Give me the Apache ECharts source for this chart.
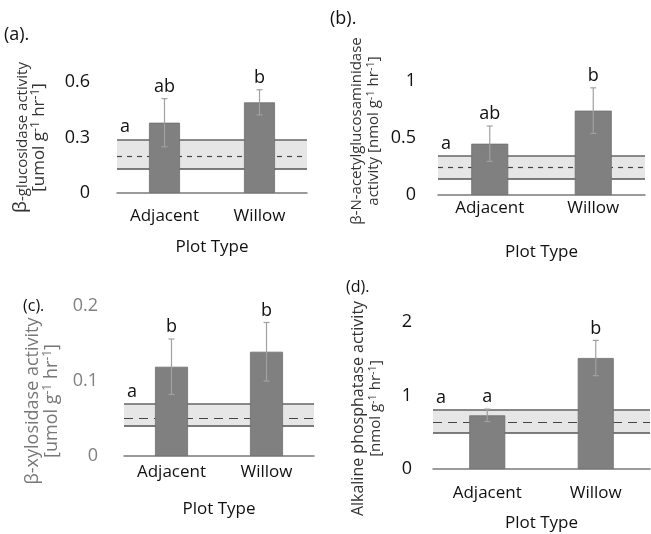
<!DOCTYPE html>
<html>
<head>
<meta charset="utf-8">
<script src="https://cdn.jsdelivr.net/npm/echarts@6/dist/echarts.min.js"></script>
<style>
  html, body { margin: 0; padding: 0; background: #fff; }
  #chart { width: 651px; height: 534px; }
</style>
</head>
<body>
<div id="chart"></div>
<script>
// plot types
var categories = ['Adjacent', 'Willow'];

// (a) beta-glucosidase
var aMean = [0.38, 0.49];
var aErr = [0.13, 0.068];
var aLetters = ['ab', 'b'];
var aBand = [0.13, 0.205, 0.286]; // low, mid, high
var aTicks = [0, 0.3, 0.6];

// (b) beta-N-acetylglucosaminidase
var bMean = [0.45, 0.74];
var bErr = [0.155, 0.2];
var bLetters = ['ab', 'b'];
var bBand = [0.14, 0.24, 0.34];
var bTicks = [0, 0.5, 1];

// (c) beta-xylosidase
var cMean = [0.119, 0.139];
var cErr = [0.037, 0.039];
var cLetters = ['b', 'b'];
var cBand = [0.039, 0.054, 0.070];
var cTicks = [0, 0.1, 0.2];

// (d) alkaline phosphatase
var dMean = [0.73, 1.51];
var dErr = [0.085, 0.24];
var dLetters = ['a', 'b'];
var dBand = [0.49, 0.64, 0.81];
var dTicks = [0, 1, 2];

var bandLetter = 'a';
var FONT = '"Open Sans", "Noto Sans", sans-serif';

// rich styles for the rotated y titles (u = superscript, g = spacer)
var aRich = {
  b: { fontSize: 19, verticalAlign: 'bottom', lineHeight: 18 },
  s: { fontSize: 15, verticalAlign: 'bottom', lineHeight: 18 },
  m: { fontSize: 17, lineHeight: 18 },
  u: { fontSize: 12, verticalAlign: 'top', lineHeight: 18 }
};
var bRich = {
  t: { fontSize: 15, lineHeight: 17 },
  u: { fontSize: 11, verticalAlign: 'top', lineHeight: 17 },
  g: { width: 14, fontSize: 10 }
};
var cRich = {
  m: { fontSize: 18, lineHeight: 19 },
  u: { fontSize: 12, verticalAlign: 'top', lineHeight: 19 },
  g: { width: 40, fontSize: 10 }
};
var dRich = {
  k: { fontSize: 16, lineHeight: 18 },
  m: { fontSize: 15, lineHeight: 18 },
  u: { fontSize: 11, verticalAlign: 'top', lineHeight: 18 },
  g: { width: 26, fontSize: 10 }
};

function errRender(letters) {
  return function (params, api) {
    var i = api.value(0), m = api.value(1), e = api.value(2);
    var top = api.coord([i, m + e]);
    var bot = api.coord([i, m - e]);
    var w = 3;
    var st = { stroke: '#a0a0a0', lineWidth: 1.2 };
    return {
      type: 'group',
      children: [
        { type: 'line', shape: { x1: top[0], y1: top[1], x2: bot[0], y2: bot[1] }, style: st },
        { type: 'line', shape: { x1: top[0] - w, y1: top[1], x2: top[0] + w, y2: top[1] }, style: st },
        { type: 'line', shape: { x1: bot[0] - w, y1: bot[1], x2: bot[0] + w, y2: bot[1] }, style: st },
        {
          type: 'text', x: top[0], y: top[1] - 3,
          style: {
            text: letters[params.dataIndex], textAlign: 'center', textVerticalAlign: 'bottom',
            font: '18px ' + FONT, fill: '#111'
          }
        }
      ]
    };
  };
}

function panelSeries(idx, mean, err, letters, band, dash, barW) {
  var errData = mean.map(function (v, k) { return [k, v, err[k]]; });
  return [
    {
      type: 'bar', xAxisIndex: idx, yAxisIndex: idx, z: 2,
      data: mean, barWidth: barW,
      itemStyle: { color: '#808080', borderColor: '#6e6e6e', borderWidth: 0.8 },
      markArea: {
        silent: true, z: 0.5,
        itemStyle: { color: '#e6e6e6' },
        data: [[{ yAxis: band[0] }, { yAxis: band[2] }]]
      },
      markLine: {
        silent: true, z: 1, symbol: 'none', animation: false,
        data: [
          { yAxis: band[0], lineStyle: { color: '#555', width: 1.5, type: 'solid' }, label: { show: false } },
          { yAxis: band[1], lineStyle: { color: '#444', width: 1.2, type: dash }, label: { show: false } },
          {
            yAxis: band[2], lineStyle: { color: '#666', width: 1.5, type: 'solid' },
            label: {
              show: true, position: 'insideStartTop', formatter: bandLetter, distance: 3,
              color: '#111', fontSize: 18, fontFamily: FONT
            }
          }
        ]
      }
    },
    {
      type: 'custom', xAxisIndex: idx, yAxisIndex: idx, z: 3,
      renderItem: errRender(letters), data: errData, clip: false
    }
  ];
}

function xAxisCfg(idx, margin, gap) {
  return {
    type: 'category', gridIndex: idx, data: categories,
    axisTick: { show: false },
    axisLine: { lineStyle: { color: '#7a7a7a', width: 1.5 } },
    axisLabel: { color: '#111', fontSize: 17, fontFamily: FONT, margin: margin },
    name: 'Plot Type', nameLocation: 'middle', nameGap: gap,
    nameTextStyle: { color: '#111', fontSize: 17, fontFamily: FONT }
  };
}

function yAxisCfg(idx, ticks, name, rich, gap, color, nameColor, labMargin) {
  return {
    type: 'value', gridIndex: idx,
    min: ticks[0], max: ticks[ticks.length - 1], interval: ticks[1] - ticks[0],
    splitLine: { show: false }, axisLine: { show: false }, axisTick: { show: false },
    axisLabel: { color: color, fontSize: 18, fontFamily: FONT, margin: labMargin },
    name: name, nameLocation: 'middle', nameRotate: 90, nameGap: gap,
    nameTextStyle: { color: nameColor, fontFamily: FONT, rich: rich }
  };
}

var chart = echarts.init(document.getElementById('chart'), null, { renderer: 'canvas' });

var option = {
  animation: false,
  backgroundColor: '#fff',
  title: [
    { text: '(a).', left: 4, top: 26, padding: 0, textStyle: { fontSize: 18, fontWeight: 'normal', color: '#111', fontFamily: FONT } },
    { text: '(b).', left: 330, top: 10, padding: 0, textStyle: { fontSize: 18, fontWeight: 'normal', color: '#111', fontFamily: FONT } },
    { text: '(c).', left: 23, top: 298, padding: 0, textStyle: { fontSize: 16, fontWeight: 'normal', color: '#111', fontFamily: FONT } },
    { text: '(d).', left: 346, top: 279, padding: 0, textStyle: { fontSize: 16, fontWeight: 'normal', color: '#111', fontFamily: FONT } }
  ],
  grid: [
    { left: 117, width: 190, top: 82, height: 111 },
    { left: 438, width: 207, top: 81, height: 114 },
    { left: 124, width: 190, top: 306, height: 150 },
    { left: 433, width: 217, top: 322, height: 147 }
  ],
  xAxis: [
    xAxisCfg(0, 15, 46),
    xAxisCfg(1, 5, 49),
    xAxisCfg(2, 8, 45),
    xAxisCfg(3, 16, 46)
  ],
  yAxis: [
    yAxisCfg(0, aTicks, '{b|β}{s|-glucosidase activity}\n{m|[umol g}{u|-1}{m| hr}{u|-1}{m|]}', aRich, 69, '#111', '#333', 27),
    yAxisCfg(1, bTicks, '{g| }{t|β-N-acetylglucosaminidase}\n{g| }{t|activity [nmol g}{u|-1}{t| hr}{u|-1}{t|]}', bRich, 56, '#111', '#333', 22),
    yAxisCfg(2, cTicks, '{m|β-xylosidase activity}{g| }\n{m|[umol g}{u|-1}{m| hr}{u|-1}{m|]}{g| }', cRich, 63, '#808080', '#777', 26),
    yAxisCfg(3, dTicks, '{k|Alkaline phosphatase activity}{g| }\n{m|[nmol g}{u|-1}{m| hr}{u|-1}{m|]}{g| }', dRich, 48, '#111', '#333', 21)
  ],
  series: [].concat(
    panelSeries(0, aMean, aErr, aLetters, aBand, [5, 5], 31),
    panelSeries(1, bMean, bErr, bLetters, bBand, [5, 5], 37),
    panelSeries(2, cMean, cErr, cLetters, cBand, [9, 6], 33),
    panelSeries(3, dMean, dErr, dLetters, dBand, [9, 6], 36)
  )
};

chart.setOption(option);
</script>
</body>
</html>
